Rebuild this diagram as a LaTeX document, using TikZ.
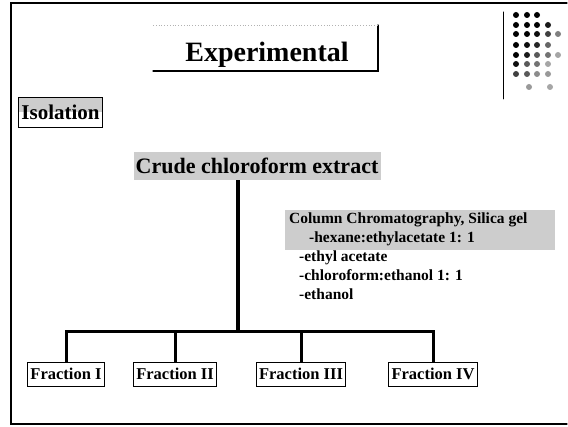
\documentclass[tikz,border=0pt]{standalone}
\usepackage{fontspec}
\setmainfont{Liberation Serif}
\usetikzlibrary{positioning}
\definecolor{halftone}{RGB}{205,205,205}
\tikzset{
  frameline/.style={line width=1.3pt, line cap=round},
  trunk/.style={line width=3.5pt},
  branch/.style={line width=3pt},
  fracbox/.style={
    draw=black,
    line width=0.9pt,
    inner sep=3pt,
    minimum height=24pt,
    font=\bfseries\fontsize{16.5}{18}\selectfont
  },
  isobox/.style={
    draw=black,
    line width=0.9pt,
    inner sep=3pt,
    minimum height=30pt,
    font=\bfseries\fontsize{21}{22}\selectfont,
    path picture={\fill[halftone]
      (path picture bounding box.north west) rectangle (path picture bounding box.east);}
  },
  dot/.style={circle, inner sep=0pt, minimum size=6pt}
}

\begin{document}
\begin{tikzpicture}[x=1pt, y=-1pt]
  \useasboundingbox (0,0) rectangle (568,427);
  \draw[frameline] (567,3) -- (11,3) -- (11,424) -- (567,424);
  % title with shadow edges
  \node[font=\bfseries\fontsize{28}{32}\selectfont] (title) at (267,55) {Experimental};
  \draw[frameline, line width=1.1pt] (378,25) -- (378,71) -- (153,71);
  \draw[gray!60, dotted, line width=0.8pt] (153,25) -- (378,25);
  % corner dots
  \draw[frameline, line width=1pt] (503,12) -- (503,99);
  \foreach \px/\py/\k in {516/15/100, 527/15/100, 537/15/100,
      516/25/100, 527/25/100, 537/25/100, 548/25/90,
      516/34/100, 527/34/100, 537/34/95, 548/34/75, 558/34/50,
      516/45/100, 527/45/95, 537/45/85, 548/45/60,
      516/55/100, 527/55/90, 537/55/65, 548/55/55, 558/55/35,
      516/64/95, 527/64/65, 537/64/55, 548/64/35,
      516/74/75, 527/74/65, 537/74/45, 548/74/40,
      529/87/40, 550/87/35}
    \node[dot, fill=black!\k] at (\px,\py) {};
  \node[isobox, anchor=west] (iso) at (18,112) {Isolation};
  \node[fill=halftone, inner sep=2pt, minimum width=247pt, minimum height=28pt,
        font=\bfseries\fontsize{22}{24}\selectfont] (crude) at (257,166) {Crude chloroform extract};
  % eluents
  \fill[halftone] (285,210) rectangle (555,250);
  \node[anchor=north west, align=left, inner sep=0pt,
        font=\bfseries\fontsize{15.5}{19}\selectfont] (column) at (289,213)
    {Column Chromatography, Silica gel\\
     \hspace*{20pt}-hexane:ethylacetate 1: 1\\
     \hspace*{10pt}-ethyl acetate\\
     \hspace*{10pt}-chloroform:ethanol 1: 1\\
     \hspace*{10pt}-ethanol};
  \node[fracbox] (fracI) at (66,374) {Fraction I};
  \node[fracbox] (fracII) at (175,374) {Fraction II};
  \node[fracbox] (fracIII) at (301,374) {Fraction III};
  \node[fracbox] (fracIV) at (433,374) {Fraction IV};
  \coordinate (split) at (238,332);
  \draw[trunk] (crude.south -| split) -- (split);
  \draw[branch] (fracI.north) |- (split) -| (fracIV.north);
  \draw[branch] (fracII.north) -- (fracII.north |- split);
  \draw[branch] (fracIII.north) -- (fracIII.north |- split);
\end{tikzpicture}
\end{document}
